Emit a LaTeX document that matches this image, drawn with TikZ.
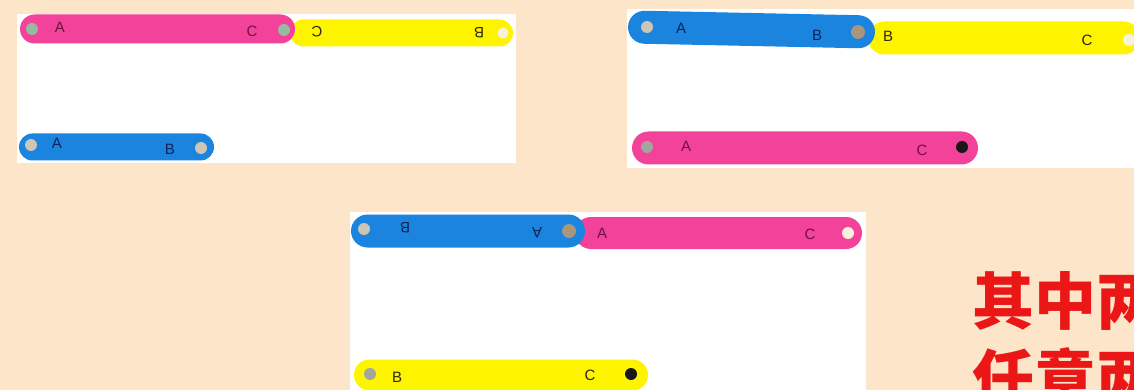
\documentclass[tikz,border=0pt]{standalone}
\usepackage{fontspec}
\setmainfont{Liberation Sans}
\newfontfamily\cjk{Noto Sans CJK SC}
\usetikzlibrary{shapes.misc}
\usepackage{xcolor}

\definecolor{bgpeach}{RGB}{252,229,201}
\definecolor{strappink}{RGB}{243,66,154}
\definecolor{strapyellow}{RGB}{255,244,0}
\definecolor{strapblue}{RGB}{26,132,222}
\definecolor{holegray}{RGB}{160,166,160}
\definecolor{holegreen}{RGB}{150,185,160}
\definecolor{holelight}{RGB}{205,198,182}
\definecolor{holejoin}{RGB}{168,150,125}
\definecolor{holewhite}{RGB}{246,242,222}
\definecolor{holeblack}{RGB}{25,25,25}
\definecolor{inkpink}{RGB}{110,20,60}
\definecolor{inkblue}{RGB}{15,35,90}
\definecolor{inkyellow}{RGB}{45,40,10}
\definecolor{titlered}{RGB}{235,22,22}

\begin{document}
\begin{tikzpicture}[
x=1pt, y=-1pt,
panel/.style={fill=white, draw=none},
strap/.style={
    rounded rectangle,
    draw=none,
    inner sep=0pt,
    minimum height=#1
},
strap/.default=29pt,
hole/.style={
    circle,
    inner sep=0pt,
    minimum size=12pt
},
lbl/.style={
    inner sep=0pt,
    font=\fontsize{15}{15}\selectfont
},
title/.style={
    anchor=west,
    inner sep=0pt,
    text=titlered,
    font=\cjk\bfseries\fontsize{62}{62}\selectfont
}
]

\clip (0,0) rectangle (1134,390);
\fill[bgpeach] (0,0) rectangle (1134,390);

% panel 1
\fill[panel] (17,14) rectangle (516,163);

\node[strap=27pt, fill=strapyellow, minimum width=223pt] (oneyellow) at (401.5,33) {};
\node[strap=29pt, fill=strappink, minimum width=275pt] (onepink) at (157.5,29) {};
\node[strap=27pt, fill=strapblue, minimum width=195pt] (oneblue) at (116.5,147) {};

\node[hole, fill=holegreen] (onepinkA) at (32,29) {};
\node[hole, fill=holegreen] (onepinkC) at (284,30) {};
\node[hole, fill=holewhite, minimum size=11pt] (oneyellowB) at (503,33) {};
\node[hole, fill=holelight] (oneblueA) at (31,145) {};
\node[hole, fill=holelight] (oneblueB) at (201,148) {};

\node[lbl, text=inkpink] (onepinkAl) at (60,27) {A};
\node[lbl, text=inkpink] (onepinkCl) at (252,31) {C};
\node[lbl, text=inkyellow, rotate=180] (oneyellowCl) at (317,32) {C};
\node[lbl, text=inkyellow, rotate=180] (oneyellowBl) at (479,33) {B};
\node[lbl, text=inkblue] (oneblueAl) at (57,143) {A};
\node[lbl, text=inkblue] (oneblueBl) at (170,149) {B};

% panel 2
\fill[panel] (627,9) rectangle (1140,168);

\node[strap=33pt, fill=strapyellow, minimum width=272pt] (twoyellow) at (1004,38) {};
\node[strap=33pt, fill=strapblue, minimum width=247pt, rotate=-1.2] (twoblue) at (751.5,29.5) {};
\node[strap=33pt, fill=strappink, minimum width=346pt] (twopink) at (805,148) {};

\node[hole, fill=holelight] (twoblueA) at (647,27) {};
\node[hole, fill=holejoin, minimum size=14pt] (twoblueB) at (858,32) {};
\node[hole, fill=holewhite] (twoyellowC) at (1129,40) {};
\node[hole, fill=holegray] (twopinkA) at (647,147) {};
\node[hole, fill=holeblack] (twopinkC) at (962,147) {};

\node[lbl, text=inkblue] (twoblueAl) at (681,28) {A};
\node[lbl, text=inkblue] (twoblueBl) at (817,35) {B};
\node[lbl, text=inkyellow] (twoyellowBl) at (888,36) {B};
\node[lbl, text=inkyellow] (twoyellowCl) at (1087,40) {C};
\node[lbl, text=inkpink] (twopinkAl) at (686,146) {A};
\node[lbl, text=inkpink] (twopinkCl) at (922,150) {C};

% panel 3
\fill[panel] (350,212) rectangle (866,395);

\node[strap=32pt, fill=strappink, minimum width=287pt] (threepink) at (718.5,233) {};
\node[strap=33pt, fill=strapblue, minimum width=234pt] (threeblue) at (468,231) {};
\node[strap=31pt, fill=strapyellow, minimum width=294pt] (threeyellow) at (501,375) {};

\node[hole, fill=holelight] (threeblueB) at (364,229) {};
\node[hole, fill=holejoin, minimum size=14pt] (threeblueA) at (569,231) {};
\node[hole, fill=holewhite] (threepinkC) at (848,233) {};
\node[hole, fill=holegray] (threeyellowB) at (370,374) {};
\node[hole, fill=holeblack] (threeyellowC) at (631,374) {};

\node[lbl, text=inkblue, rotate=180] (threeblueBl) at (405,228) {B};
\node[lbl, text=inkblue, rotate=180] (threeblueAl) at (537,233) {A};
\node[lbl, text=inkpink] (threepinkAl) at (602,233) {A};
\node[lbl, text=inkpink] (threepinkCl) at (810,234) {C};
\node[lbl, text=inkyellow] (threeyellowBl) at (397,377) {B};
\node[lbl, text=inkyellow] (threeyellowCl) at (590,375) {C};

% red text, cut off at the right edge
\node[title] (lineone) at (972,301) {其中两};
\node[title] (linetwo) at (972,378) {任意两};

\end{tikzpicture}
\end{document}
